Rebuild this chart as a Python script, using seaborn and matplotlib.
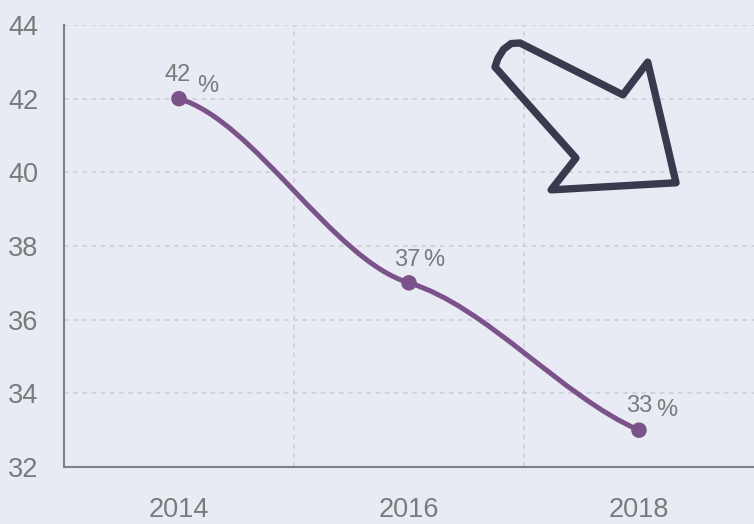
import numpy as np
import pandas as pd
import matplotlib
matplotlib.use('Agg')
import matplotlib.pyplot as plt
import seaborn as sns
from matplotlib.path import Path
from matplotlib.patches import PathPatch, Polygon
from matplotlib.ticker import FixedLocator

# Data
years = [2014, 2016, 2018]
values = [42, 37, 33]
labels = ['42', '37', '33']
# tangent slopes (value per year) used to shape the smooth line
slopes = [-0.94, -0.94, -1.35]

BG = '#e8ebf4'
LINE = '#7b5289'
GRAY = '#7a7a7a'
GRID = '#c9ccd3'

sns.set_style('white')
plt.rcParams['font.family'] = ['Liberation Sans', 'DejaVu Sans']

fig = plt.figure(figsize=(7.54, 5.24), dpi=100, facecolor=BG)
ax = fig.add_axes([64 / 754, 57 / 524, 690 / 754, 442 / 524])
ax.set_facecolor(BG)

# Smooth line as cubic Bezier segments through the data points
verts = [(years[0], values[0])]
codes = [Path.MOVETO]
for i in range(len(years) - 1):
    h = (years[i + 1] - years[i]) / 3
    verts += [(years[i] + h, values[i] + h * slopes[i]),
              (years[i + 1] - h, values[i + 1] - h * slopes[i + 1]),
              (years[i + 1], values[i + 1])]
    codes += [Path.CURVE4] * 3
ax.add_patch(PathPatch(Path(verts, codes), facecolor='none', edgecolor=LINE,
                       lw=3.6, capstyle='round', zorder=3))

df = pd.DataFrame({'year': years, 'value': values})
sns.scatterplot(data=df, x='year', y='value', ax=ax, color=LINE, s=125,
                edgecolor='none', zorder=4, legend=False)

# Data labels (offsets in points)
num_off = [(-1, 17), (-1.5, 16.6), (0, 17.5)]
pct_off = [(21, 9.4), (17.5, 16.6), (20, 14.5)]
for x, y, t, no, po in zip(years, values, labels, num_off, pct_off):
    ax.annotate(t, (x, y), xytext=no, textcoords='offset points', ha='center',
                va='center', fontsize=17, color=GRAY)
    ax.annotate('%', (x, y), xytext=po, textcoords='offset points', ha='center',
                va='center', fontsize=17, color=GRAY)

# Hand drawn arrow
arrow = [(0.6609, 0.9593), (0.810, 0.842), (0.846, 0.916), (0.887, 0.643),
         (0.706, 0.627), (0.742, 0.699), (0.6246, 0.9050), (0.6290, 0.9250),
         (0.6370, 0.9450), (0.6480, 0.9580)]
ax.add_patch(Polygon(arrow, closed=True, transform=ax.transAxes, fill=False,
                     edgecolor='#3a3a4e', lw=5.3, joinstyle='round', zorder=5))

# Axes
ax.set_xlim(2013, 2019)
ax.set_ylim(32, 44)
ax.set_xticks([2014, 2016, 2018])
ax.xaxis.set_minor_locator(FixedLocator([2015, 2017]))
ax.set_yticks(range(32, 45, 2))
ax.grid(axis='y', which='major', color=GRID, ls=(0, (3, 3)), lw=1.1)
ax.grid(axis='x', which='minor', color=GRID, ls=(0, (3, 3)), lw=1.1)
ax.set_axisbelow(True)
ax.set_xlabel('')
ax.set_ylabel('')

for side in ['top', 'right']:
    ax.spines[side].set_visible(False)
for side in ['left', 'bottom']:
    ax.spines[side].set_color('#808080')
    ax.spines[side].set_linewidth(1.5)

ax.tick_params(axis='y', which='major', length=8.5, width=1.5, color='#808080',
               pad=10, labelsize=19.5, labelcolor=GRAY)
ax.tick_params(axis='x', which='major', length=7, width=1.5, color='#808080',
               pad=14.5, labelsize=19.5, labelcolor=GRAY)
ax.tick_params(axis='x', which='minor', length=0)

fig.savefig('out.png', dpi=100, facecolor=BG)
